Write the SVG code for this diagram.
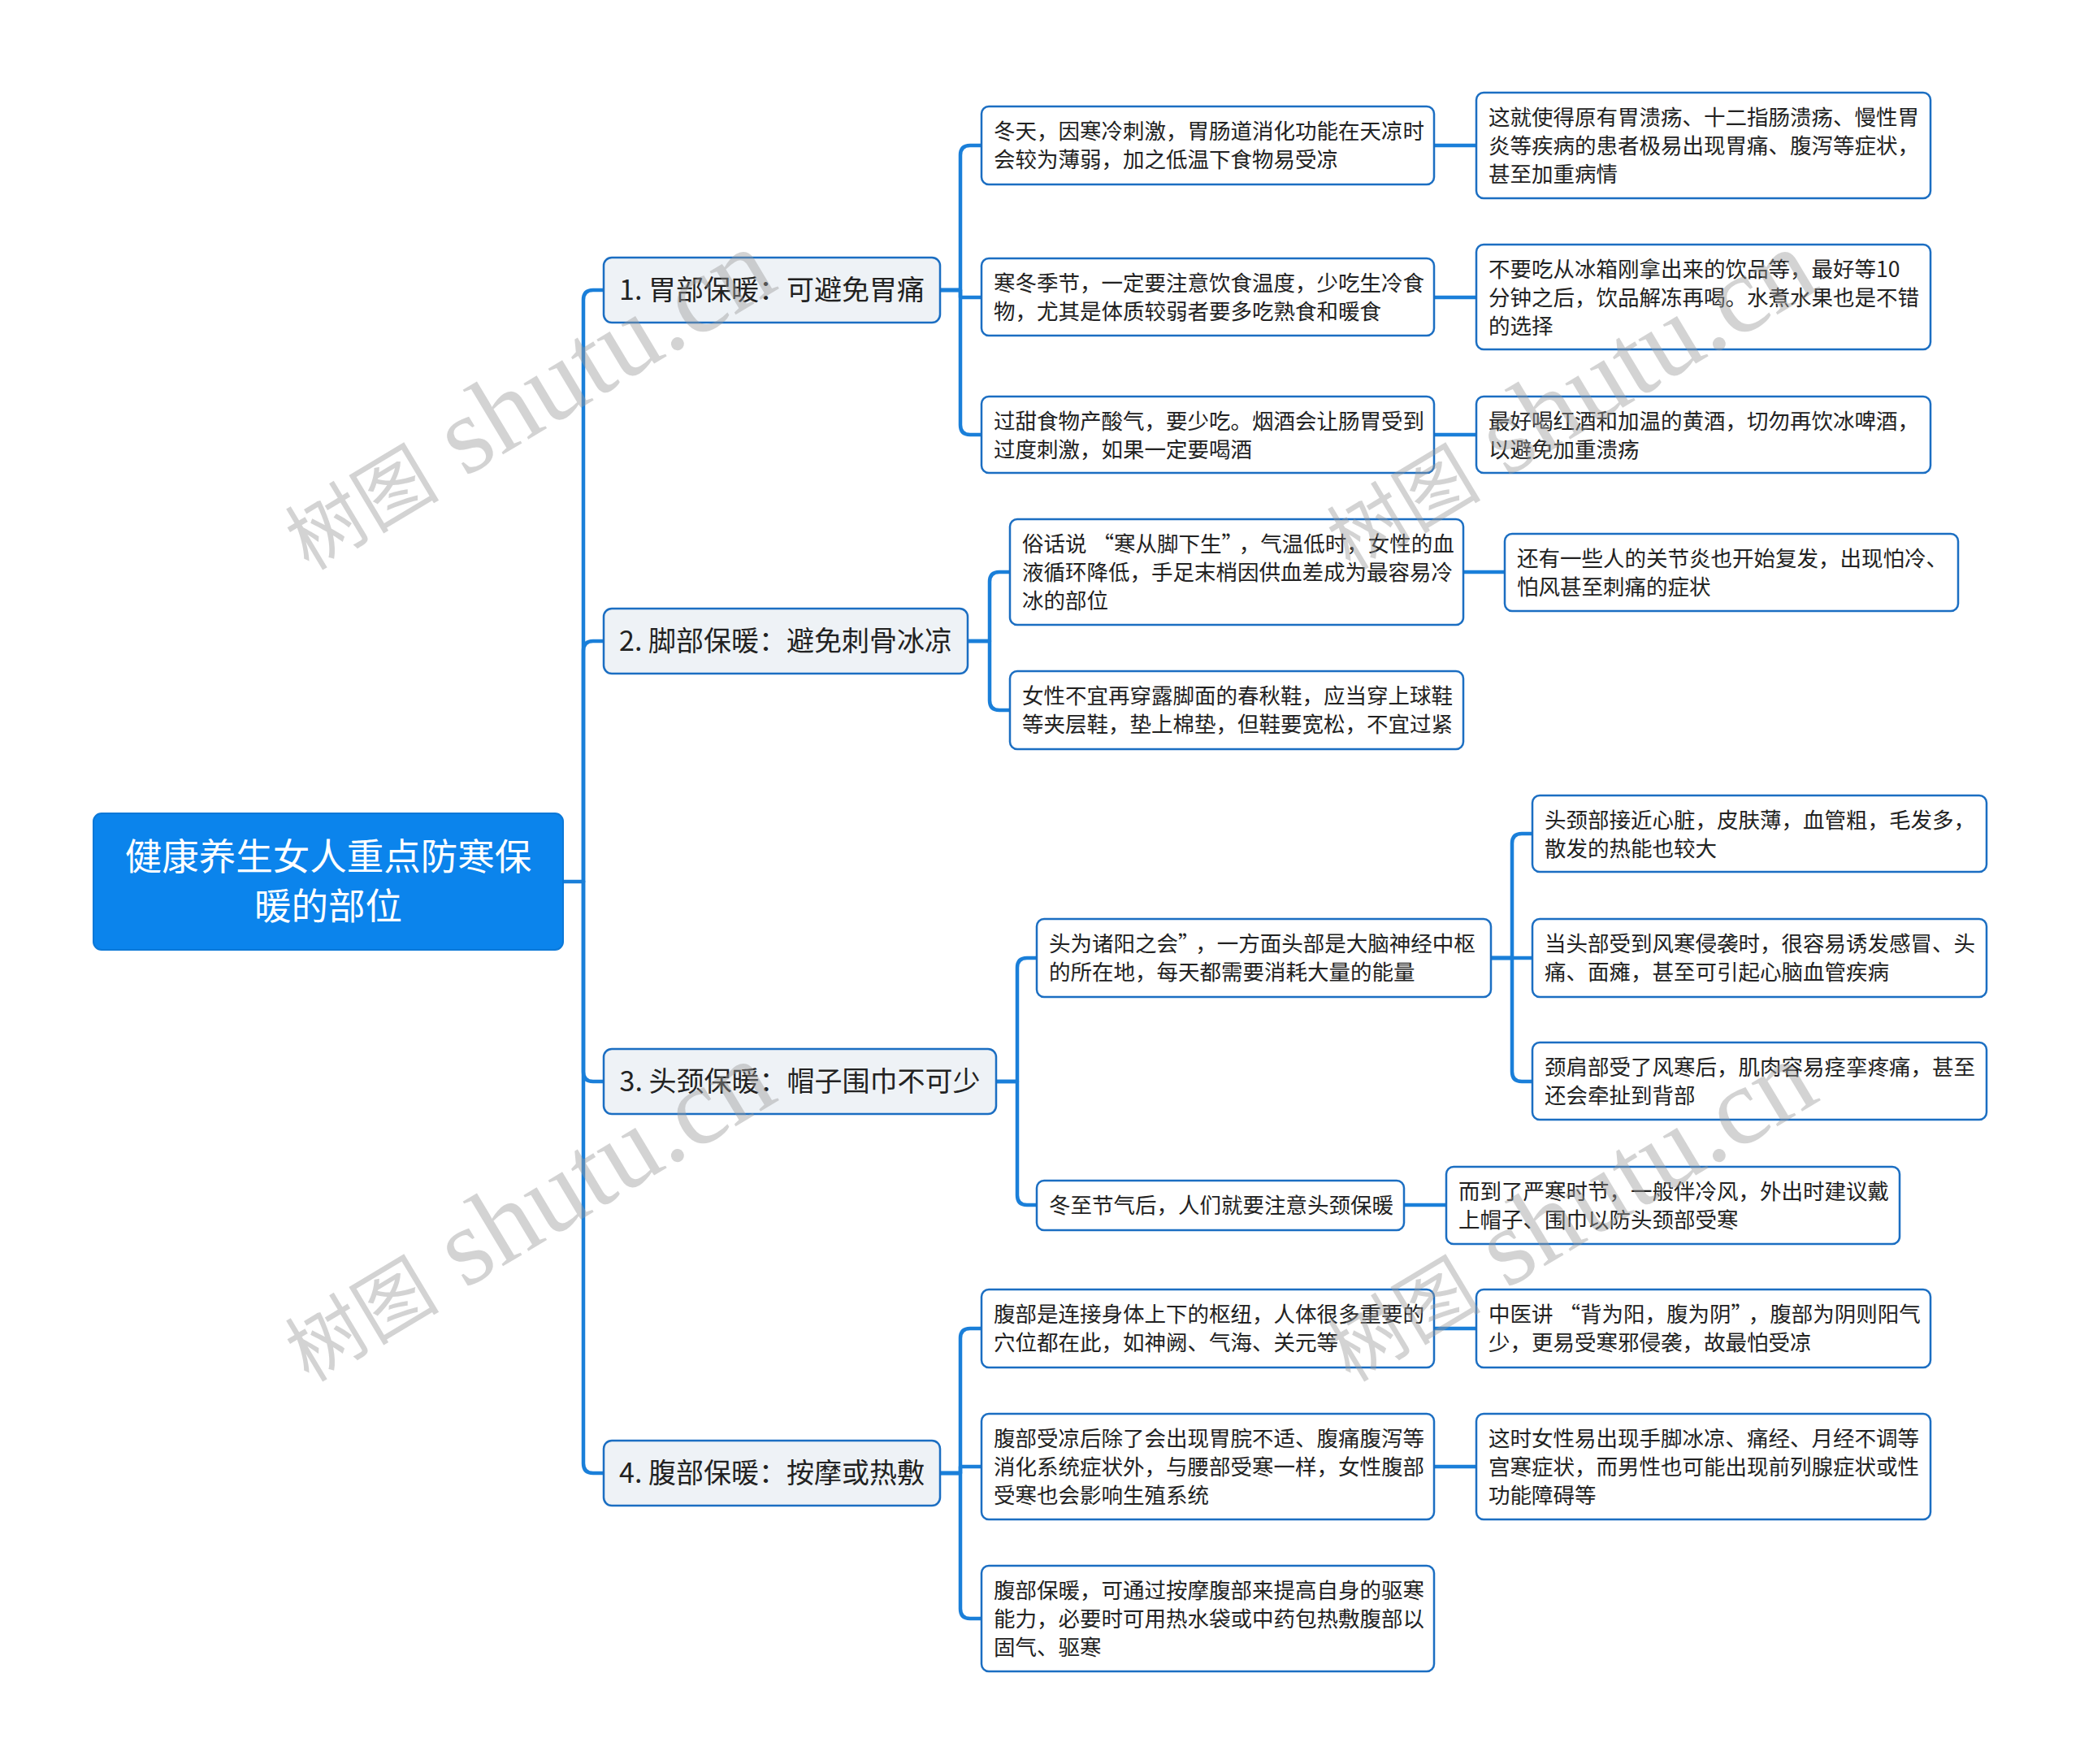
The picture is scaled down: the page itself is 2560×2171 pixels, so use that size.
<svg xmlns="http://www.w3.org/2000/svg" width="2560" height="2171" viewBox="0 0 2560 2171">
<style>
.bg{fill:#ffffff}
.conn path{fill:none;stroke:#1a7fd9;stroke-width:4.5;stroke-linecap:round;stroke-linejoin:round}
.root rect{fill:#0b84ec;stroke:#0b78d8;stroke-width:2}
.root text{fill:#ffffff;font-family:"Noto Sans CJK SC","Noto Sans",sans-serif;font-size:45.5px;text-anchor:middle}
.br rect{fill:#eef2f6;stroke:#1b6ec2;stroke-width:2.5}
.br text{fill:#222222;font-family:"Noto Sans CJK SC","Noto Sans",sans-serif;font-size:34px;text-anchor:middle}
.lf rect{fill:#ffffff;stroke:#1b6ec2;stroke-width:2.5}
.lf text{fill:#222222;font-family:"Noto Sans CJK SC","Noto Sans",sans-serif;font-size:26.5px}
.wm text{fill:#999999;opacity:0.42}
.wm .c{font-family:"Noto Sans CJK SC",sans-serif;font-size:95px}
.wm .l{font-family:"Liberation Serif",serif;font-size:135px}
</style>
<rect class="bg" x="0" y="0" width="2560" height="2171"/>
<g id="connectors" class="conn">
<path d="M693 1085 H718"/>
<path d="M718 1085 V369 Q718 357 730 357 H743"/>
<path d="M718 1085 V801 Q718 789 730 789 H743"/>
<path d="M718 1085 V1319 Q718 1331 730 1331 H743"/>
<path d="M718 1085 V1801 Q718 1813 730 1813 H743"/>
<path d="M1157 357 H1182 V191 Q1182 179 1194 179 H1208"/>
<path d="M1157 357 H1182 V366 H1208"/>
<path d="M1157 357 H1182 V523 Q1182 535 1194 535 H1208"/>
<path d="M1765 179 H1817"/>
<path d="M1765 366 H1817"/>
<path d="M1765 535 H1817"/>
<path d="M1191 789 H1218 V716 Q1218 704 1230 704 H1243"/>
<path d="M1191 789 H1218 V862 Q1218 874 1230 874 H1243"/>
<path d="M1801 704 H1852"/>
<path d="M1226 1331 H1252 V1191 Q1252 1179 1264 1179 H1276"/>
<path d="M1226 1331 H1252 V1471 Q1252 1483 1264 1483 H1276"/>
<path d="M1835 1179 H1861 V1038 Q1861 1026 1873 1026 H1886"/>
<path d="M1835 1179 H1886"/>
<path d="M1835 1179 H1861 V1319 Q1861 1331 1873 1331 H1886"/>
<path d="M1728 1483 H1780"/>
<path d="M1157 1813 H1182 V1647 Q1182 1635 1194 1635 H1208"/>
<path d="M1157 1813 H1182 V1805 H1208"/>
<path d="M1157 1813 H1182 V1980 Q1182 1992 1194 1992 H1208"/>
<path d="M1765 1635 H1817"/>
<path d="M1765 1805 H1817"/>
</g>
<g id="root" class="root">
<rect x="115" y="1001" width="578" height="168" rx="10"/>
<text x="404" y="1071">健康养生女人重点防寒保</text>
<text x="404" y="1132">暖的部位</text>
</g>
<g id="b1" class="br"><rect x="743" y="317" width="414" height="80" rx="10"/><text x="950" y="369">1. 胃部保暖：可避免胃痛</text></g>
<g id="b2" class="br"><rect x="743" y="749" width="448" height="80" rx="10"/><text x="967" y="801">2. 脚部保暖：避免刺骨冰凉</text></g>
<g id="b3" class="br"><rect x="743" y="1291" width="483" height="80" rx="10"/><text x="984.5" y="1343">3. 头颈保暖：帽子围巾不可少</text></g>
<g id="b4" class="br"><rect x="743" y="1773" width="414" height="80" rx="10"/><text x="950" y="1825">4. 腹部保暖：按摩或热敷</text></g>

<g id="c11" class="lf"><rect x="1208" y="131" width="557" height="96" rx="9"/><text x="1223" y="171">冬天，因寒冷刺激，胃肠道消化功能在天凉时</text><text x="1223" y="206">会较为薄弱，加之低温下食物易受凉</text></g>
<g id="g11" class="lf"><rect x="1817" y="114" width="559" height="130" rx="9"/><text x="1832" y="154">这就使得原有胃溃疡、十二指肠溃疡、慢性胃</text><text x="1832" y="189">炎等疾病的患者极易出现胃痛、腹泻等症状，</text><text x="1832" y="224">甚至加重病情</text></g>
<g id="c12" class="lf"><rect x="1208" y="318" width="557" height="95" rx="9"/><text x="1223" y="358">寒冬季节，一定要注意饮食温度，少吃生冷食</text><text x="1223" y="393">物，尤其是体质较弱者要多吃熟食和暖食</text></g>
<g id="g12" class="lf"><rect x="1817" y="301" width="559" height="129" rx="9"/><text x="1832" y="341">不要吃从冰箱刚拿出来的饮品等，最好等10</text><text x="1832" y="376">分钟之后，饮品解冻再喝。水煮水果也是不错</text><text x="1832" y="411">的选择</text></g>
<g id="c13" class="lf"><rect x="1208" y="488" width="557" height="94" rx="9"/><text x="1223" y="528">过甜食物产酸气，要少吃。烟酒会让肠胃受到</text><text x="1223" y="563">过度刺激，如果一定要喝酒</text></g>
<g id="g13" class="lf"><rect x="1817" y="488" width="559" height="94" rx="9"/><text x="1832" y="528">最好喝红酒和加温的黄酒，切勿再饮冰啤酒，</text><text x="1832" y="563">以避免加重溃疡</text></g>

<g id="c21" class="lf"><rect x="1243" y="639" width="558" height="130" rx="9"/><text x="1258" y="679">俗话说<tspan dx="7">“寒从脚下生”</tspan><tspan dx="8">，气温低时，女性的血</tspan></text><text x="1258" y="714">液循环降低，手足末梢因供血差成为最容易冷</text><text x="1258" y="749">冰的部位</text></g>
<g id="g21" class="lf"><rect x="1852" y="657" width="558" height="95" rx="9"/><text x="1867" y="697">还有一些人的关节炎也开始复发，出现怕冷、</text><text x="1867" y="732">怕风甚至刺痛的症状</text></g>
<g id="c22" class="lf"><rect x="1243" y="826" width="558" height="96" rx="9"/><text x="1258" y="866">女性不宜再穿露脚面的春秋鞋，应当穿上球鞋</text><text x="1258" y="901">等夹层鞋，垫上棉垫，但鞋要宽松，不宜过紧</text></g>

<g id="c31" class="lf"><rect x="1276" y="1131" width="559" height="96" rx="9"/><text x="1291" y="1171">头为诸阳之会”<tspan dx="8">，一方面头部是大脑神经中枢</tspan></text><text x="1291" y="1206">的所在地，每天都需要消耗大量的能量</text></g>
<g id="g311" class="lf"><rect x="1886" y="979" width="559" height="94" rx="9"/><text x="1901" y="1019">头颈部接近心脏，皮肤薄，血管粗，毛发多，</text><text x="1901" y="1054">散发的热能也较大</text></g>
<g id="g312" class="lf"><rect x="1886" y="1131" width="559" height="96" rx="9"/><text x="1901" y="1171">当头部受到风寒侵袭时，很容易诱发感冒、头</text><text x="1901" y="1206">痛、面瘫，甚至可引起心脑血管疾病</text></g>
<g id="g313" class="lf"><rect x="1886" y="1283" width="559" height="95" rx="9"/><text x="1901" y="1323">颈肩部受了风寒后，肌肉容易痉挛疼痛，甚至</text><text x="1901" y="1358">还会牵扯到背部</text></g>
<g id="c32" class="lf"><rect x="1276" y="1453" width="452" height="61" rx="9"/><text x="1291" y="1493">冬至节气后，人们就要注意头颈保暖</text></g>
<g id="g321" class="lf"><rect x="1780" y="1436" width="558" height="95" rx="9"/><text x="1795" y="1476">而到了严寒时节，一般伴冷风，外出时建议戴</text><text x="1795" y="1511">上帽子、围巾以防头颈部受寒</text></g>

<g id="c41" class="lf"><rect x="1208" y="1587" width="557" height="96" rx="9"/><text x="1223" y="1627">腹部是连接身体上下的枢纽，人体很多重要的</text><text x="1223" y="1662">穴位都在此，如神阙、气海、关元等</text></g>
<g id="g41" class="lf"><rect x="1817" y="1587" width="559" height="96" rx="9"/><text x="1832" y="1627">中医讲<tspan dx="7">“背为阳，腹为阴”</tspan><tspan dx="8">，腹部为阴则阳气</tspan></text><text x="1832" y="1662">少，更易受寒邪侵袭，故最怕受凉</text></g>
<g id="c42" class="lf"><rect x="1208" y="1740" width="557" height="130" rx="9"/><text x="1223" y="1780">腹部受凉后除了会出现胃脘不适、腹痛腹泻等</text><text x="1223" y="1815">消化系统症状外，与腰部受寒一样，女性腹部</text><text x="1223" y="1850">受寒也会影响生殖系统</text></g>
<g id="g42" class="lf"><rect x="1817" y="1740" width="559" height="130" rx="9"/><text x="1832" y="1780">这时女性易出现手脚冰凉、痛经、月经不调等</text><text x="1832" y="1815">宫寒症状，而男性也可能出现前列腺症状或性</text><text x="1832" y="1850">功能障碍等</text></g>
<g id="c43" class="lf"><rect x="1208" y="1927" width="557" height="130" rx="9"/><text x="1223" y="1967">腹部保暖，可通过按摩腹部来提高自身的驱寒</text><text x="1223" y="2002">能力，必要时可用热水袋或中药包热敷腹部以</text><text x="1223" y="2037">固气、驱寒</text></g>

<g id="watermarks" class="wm">
<text x="380" y="703" transform="rotate(-31 380 703)"><tspan class="c">树图</tspan><tspan class="l"> shutu.cn</tspan></text>
<text x="1662" y="703" transform="rotate(-31 1662 703)"><tspan class="c">树图</tspan><tspan class="l"> shutu.cn</tspan></text>
<text x="380" y="1702" transform="rotate(-31 380 1702)"><tspan class="c">树图</tspan><tspan class="l"> shutu.cn</tspan></text>
<text x="1662" y="1702" transform="rotate(-31 1662 1702)"><tspan class="c">树图</tspan><tspan class="l"> shutu.cn</tspan></text>
</g>
</svg>
